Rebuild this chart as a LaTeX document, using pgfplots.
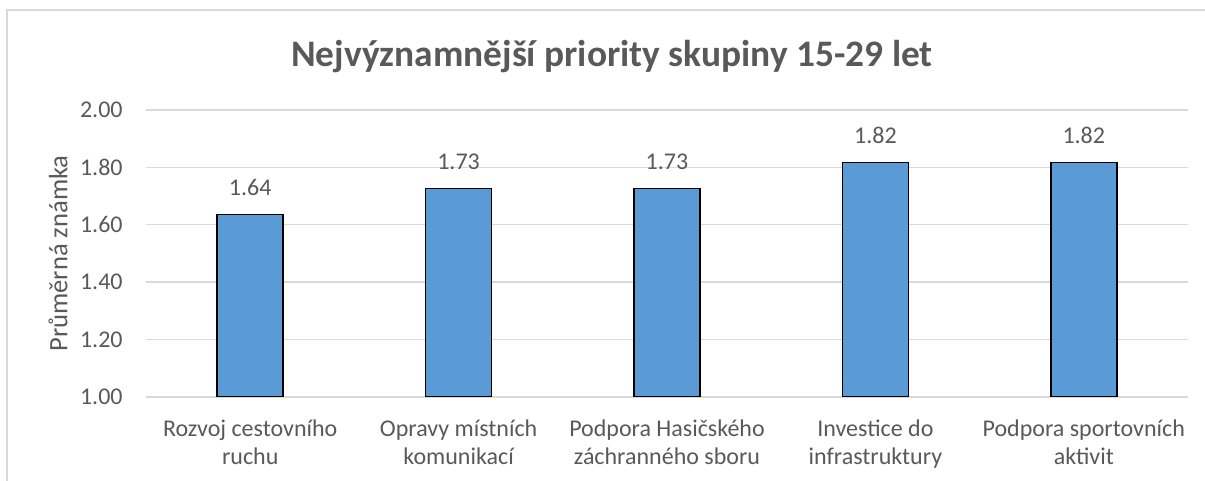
\documentclass[border=0pt]{standalone}
\usepackage{pgfplots}
\pgfplotsset{compat=1.18}
\usepackage{fontspec}
\setmainfont{Carlito}
\definecolor{barblue}{HTML}{5B9BD5}
\definecolor{gridgray}{HTML}{D9D9D9}
\definecolor{txt}{HTML}{595959}
\begin{document}
\begin{tikzpicture}
\useasboundingbox (-73pt,-42pt) rectangle (529.5pt,198.5pt);
\draw[gridgray, line width=0.75pt] (-69.5pt,-60pt) -- (-69.5pt,193.5pt) -- (560pt,193.5pt);
\begin{axis}[
  at={(0pt,0pt)}, anchor=south west,
  scale only axis,
  width=521pt, height=143.5pt,
  ybar, bar width=33pt,
  xmin=-0.5, xmax=4.5,
  ymin=1, ymax=2,
  ytick={1,1.2,1.4,1.6,1.8,2},
  xtick={0,1,2,3,4},
  xticklabels={{Rozvoj cestovního\\ruchu},{Opravy místních\\komunikací},{Podpora Hasičského\\záchranného sboru},{Investice do\\infrastruktury},{Podpora sportovních\\aktivit}},
  /pgf/number format/assume math mode=true,
  yticklabel={\pgfmathprintnumber[fixed,fixed zerofill,precision=2]{\tick}},
  major tick length=0pt,
  axis line style={draw=none},
  ymajorgrids, grid style={gridgray, line width=0.7pt},
  tick label style={font=\fontsize{12}{14}\selectfont, text=txt},
  xticklabel style={align=center, anchor=base, yshift=-34pt, inner sep=0pt},
  yticklabel style={anchor=east, inner sep=0pt, xshift=-11.5pt},
  ylabel={Průměrná známka},
  every axis y label/.style={at={(rel axis cs:0,0.5)}, xshift=-44pt, rotate=90, anchor=center, font=\fontsize{13.3}{16}\selectfont, text=txt},
  nodes near coords={\pgfmathprintnumber[fixed,fixed zerofill,precision=2]{\pgfplotspointmeta}},
  every node near coord/.append style={anchor=base, yshift=9.5pt, font=\fontsize{12}{14}\selectfont, text=txt, inner sep=0pt},
  clip=true,
]
\addplot[fill=barblue, draw=black, line width=0.7pt] coordinates {(0,1.636) (1,1.727) (2,1.727) (3,1.818) (4,1.818)};
\end{axis}
\node[anchor=base, font=\fontsize{18.7}{22}\selectfont\bfseries, text=txt] at (233pt,165pt) {Nejvýznamnější priority skupiny 15-29 let};
\end{tikzpicture}
\end{document}
